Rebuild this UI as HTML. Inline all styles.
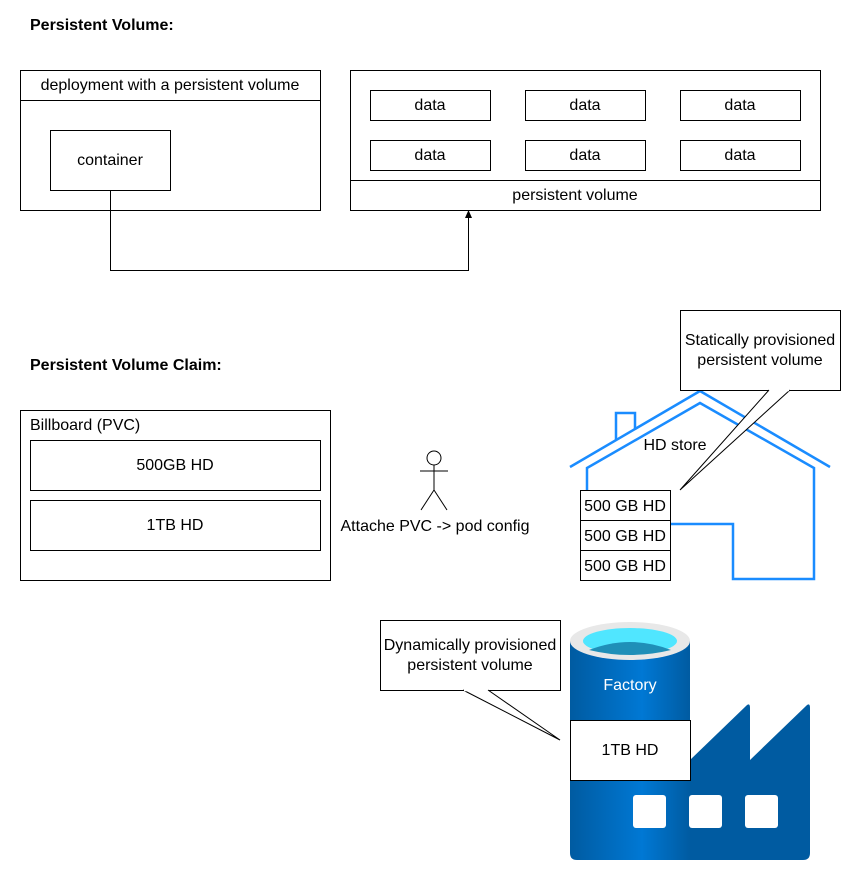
<!DOCTYPE html>
<html><head><meta charset="utf-8"><style>
html,body{margin:0;padding:0;background:#fff}
svg text{font-family:"Liberation Sans",Arial,sans-serif;font-size:16px;fill:#000}
</style></head><body>
<svg width="851" height="871" viewBox="0 0 851 871" xmlns="http://www.w3.org/2000/svg">
<defs>
<linearGradient id="cyl" x1="0" x2="1" y1="0" y2="0">
<stop offset="0" stop-color="#005ba1"/><stop offset="0.6" stop-color="#0078d4"/><stop offset="1" stop-color="#005ba1"/>
</linearGradient>
</defs>
<text x="30" y="30" font-weight="bold">Persistent Volume:</text>
<rect x="20.5" y="70.5" width="300" height="140" fill="#fff" stroke="#000"/>
<line x1="20" y1="100.5" x2="320" y2="100.5" stroke="#000"/>
<text x="170" y="90" text-anchor="middle">deployment with a persistent volume</text>
<rect x="50.5" y="130.5" width="120" height="60" fill="#fff" stroke="#000"/>
<text x="110" y="165" text-anchor="middle">container</text>
<rect x="350.5" y="70.5" width="470" height="140" fill="#fff" stroke="#000"/>
<line x1="350" y1="180.5" x2="820" y2="180.5" stroke="#000"/>
<text x="575" y="200" text-anchor="middle">persistent volume</text>
<g fill="#fff" stroke="#000">
<rect x="370.5" y="90.5" width="120" height="30"/><rect x="525.5" y="90.5" width="120" height="30"/><rect x="680.5" y="90.5" width="120" height="30"/>
<rect x="370.5" y="140.5" width="120" height="30"/><rect x="525.5" y="140.5" width="120" height="30"/><rect x="680.5" y="140.5" width="120" height="30"/>
</g>
<g text-anchor="middle">
<text x="430" y="110">data</text><text x="585" y="110">data</text><text x="740" y="110">data</text>
<text x="430" y="160">data</text><text x="585" y="160">data</text><text x="740" y="160">data</text>
</g>
<path d="M110.5 190 V270.5 H468.5 V216" fill="none" stroke="#000"/>
<path d="M468.5 210 L465 218 L472 218 Z" fill="#000"/>

<text x="30" y="370" font-weight="bold">Persistent Volume Claim:</text>
<rect x="20.5" y="410.5" width="310" height="170" fill="#fff" stroke="#000"/>
<text x="30" y="430">Billboard (PVC)</text>
<rect x="30.5" y="440.5" width="290" height="50" fill="#fff" stroke="#000"/>
<text x="175" y="470" text-anchor="middle">500GB HD</text>
<rect x="30.5" y="500.5" width="290" height="50" fill="#fff" stroke="#000"/>
<text x="175" y="530" text-anchor="middle">1TB HD</text>
<g stroke="#000" fill="#fff">
<circle cx="434" cy="458" r="7"/>
<line x1="434" y1="465" x2="434" y2="490"/>
<line x1="420" y1="471" x2="448" y2="471"/>
<line x1="434" y1="490" x2="421" y2="510"/>
<line x1="434" y1="490" x2="447" y2="510"/>
</g>
<text x="435" y="531" text-anchor="middle">Attache PVC -&gt; pod config</text>

<g fill="none" stroke="#1a8cff" stroke-width="2.5">
<path d="M570 467 L700 391 L830 467"/>
<path d="M587 490 V468 L700 403 L814 468 V579 H733 V524 H670"/>
<path d="M616 440 V413 H635 V429"/>
</g>
<text x="675" y="450" text-anchor="middle">HD store</text>
<g fill="#fff" stroke="#000">
<rect x="580.5" y="490.5" width="90" height="30"/><rect x="580.5" y="520.5" width="90" height="30"/><rect x="580.5" y="550.5" width="90" height="30"/>
</g>
<text x="625" y="511" text-anchor="middle">500 GB HD</text>
<text x="625" y="541" text-anchor="middle">500 GB HD</text>
<text x="625" y="571" text-anchor="middle">500 GB HD</text>
<rect x="680.5" y="310.5" width="160" height="80" fill="#fff" stroke="#000"/>
<path d="M769 390 L680 490 L790 390" fill="#fff" stroke="#000"/>
<line x1="770" y1="390.5" x2="789" y2="390.5" stroke="#fff" stroke-width="1.5"/>
<text x="760" y="345" text-anchor="middle">Statically provisioned</text>
<text x="760" y="365" text-anchor="middle">persistent volume</text>

<path d="M690 760 L746 706 Q750 702 750 708 V760 L806 706 Q810 702 810 708 V853 Q810 860 803 860 H690 Z" fill="#005ba1"/>
<path d="M570 641 H690 V860 H577 Q570 860 570 853 Z" fill="url(#cyl)"/>
<ellipse cx="630" cy="641" rx="60" ry="19" fill="#e8e8e8"/>
<ellipse cx="630" cy="641" rx="47" ry="13" fill="#50e6ff"/>
<path d="M589 650 Q630 634 671 650 Q630 660 589 650 Z" fill="#1f8fb8"/>
<text x="630" y="690" text-anchor="middle" style="fill:#fff">Factory</text>
<g fill="#fff">
<rect x="633" y="795" width="33" height="33" rx="3"/><rect x="689" y="795" width="33" height="33" rx="3"/><rect x="745" y="795" width="33" height="33" rx="3"/>
</g>
<rect x="570.5" y="720.5" width="120" height="60" fill="#fff" stroke="#000"/>
<text x="630" y="755" text-anchor="middle">1TB HD</text>
<rect x="380.5" y="620.5" width="180" height="70" fill="#fff" stroke="#000"/>
<path d="M463 690 L560 740 L488 690" fill="#fff" stroke="#000"/>
<line x1="464" y1="690.5" x2="487" y2="690.5" stroke="#fff" stroke-width="1.5"/>
<text x="470" y="650" text-anchor="middle">Dynamically provisioned</text>
<text x="470" y="670" text-anchor="middle">persistent volume</text>
</svg>
</body></html>
